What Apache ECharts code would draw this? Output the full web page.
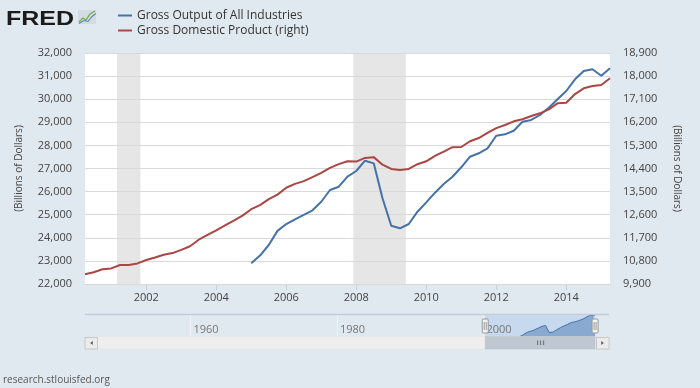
<!DOCTYPE html>
<html><head><meta charset="utf-8">
<script src="https://cdn.jsdelivr.net/npm/echarts@6/dist/echarts.min.js"></script>
<style>html,body{margin:0;padding:0;background:#e1e9f0;}#c{width:700px;height:388px;}</style>
</head><body><div id="c"></div>
<script>
// ---- data ----
const quarters = [
  '2000Q2','2000Q3','2000Q4',
  '2001Q1','2001Q2','2001Q3','2001Q4',
  '2002Q1','2002Q2','2002Q3','2002Q4',
  '2003Q1','2003Q2','2003Q3','2003Q4',
  '2004Q1','2004Q2','2004Q3','2004Q4',
  '2005Q1','2005Q2','2005Q3','2005Q4',
  '2006Q1','2006Q2','2006Q3','2006Q4',
  '2007Q1','2007Q2','2007Q3','2007Q4',
  '2008Q1','2008Q2','2008Q3','2008Q4',
  '2009Q1','2009Q2','2009Q3','2009Q4',
  '2010Q1','2010Q2','2010Q3','2010Q4',
  '2011Q1','2011Q2','2011Q3','2011Q4',
  '2012Q1','2012Q2','2012Q3','2012Q4',
  '2013Q1','2013Q2','2013Q3','2013Q4',
  '2014Q1','2014Q2','2014Q3','2014Q4',
  '2015Q1','2015Q2'
];
const grossOutput = [
  null,null,null,
  null,null,null,null,
  null,null,null,null,
  null,null,null,null,
  null,null,null,null,
  22896,23230,23688,24300,
  24597,24800,24990,25190,
  25560,26069,26212,26645,
  26892,27338,27223,25710,
  24524,24411,24597,25130,
  25535,25953,26329,26645,
  27052,27511,27658,27874,
  28420,28480,28636,29026,
  29100,29316,29633,29996,
  30355,30862,31221,31294,
  31017,31338
];
const gdp = [
  10278,10357,10472,
  10508,10638,10640,10701,
  10834,10935,11037,11104,
  11230,11371,11625,11817,
  11988,12181,12368,12562,
  12814,12974,13205,13382,
  13649,13800,13909,14066,
  14233,14422,14570,14685,
  14668,14813,14843,14550,
  14384,14340,14384,14567,
  14681,14889,15058,15230,
  15238,15461,15587,15785,
  15974,16095,16239,16317,
  16445,16550,16706,16940,
  16964,17300,17525,17614,
  17653,17914
];
const recessions = [['2001-03-01','2001-11-01'],['2007-12-01','2009-06-01']];
const xTickYears = [2002,2004,2006,2008,2010,2012,2014];
const navTickYears = [1960,1980,2000];
const seriesNames = ['Gross Output of All Industries','Gross Domestic Product (right)'];

// ---- helpers ----
function qToYear(q){ return +q.slice(0,4) + (+q.slice(5)-1)/4; }
function dToYear(d){ const p=d.split('-'); return +p[0] + (+p[1]-1)/12; }
const xs = quarters.map(qToYear);
const xMin = xs[0], xMax = xs[xs.length-1];
const goData = xs.map((x,i)=>[x, grossOutput[i]]);
const gdpData = xs.map((x,i)=>[x, gdp[i]]);
const navData = goData.filter(d=>d[1]!=null);
const navMin = 1945.6, navMax = 2017.15;

const FONT = '"Open Sans", sans-serif';
const BG = '#e1e9f0';
const NAV = {left:85, right:91, top:315, height:21.5};
const chart = echarts.init(document.getElementById('c'));

chart.setOption({
  backgroundColor: BG,
  animation: false,
  textStyle: {fontFamily: FONT},
  legend: {
    left: 113, top: 4, padding: 5, orient: 'vertical', itemWidth: 14, itemHeight: 2, itemGap: 2,
    icon: 'rect', selectedMode: false, data: seriesNames,
    textStyle: {fontSize: 12, color: '#333', lineHeight: 13, fontFamily: FONT}
  },
  grid: [
    {left: 85, right: 90, top: 53, height: 231, show: true, backgroundColor: '#ffffff', borderWidth: 0},
    {left: NAV.left, right: NAV.right, top: NAV.top, height: NAV.height, show: false}
  ],
  xAxis: [
    {type: 'value', gridIndex: 0, min: xMin, max: xMax,
     axisLine: {show: true, lineStyle: {color: '#c0d0e0', width: 1}},
     axisTick: {show: true, customValues: xTickYears, length: 6, lineStyle: {color: '#c0d0e0'}},
     axisLabel: {customValues: xTickYears, formatter: v => String(v), color: '#444', fontSize: 11, margin: 8, fontFamily: FONT},
     splitLine: {show: false}},
    {type: 'value', gridIndex: 1, min: navMin, max: navMax, z: 5,
     axisLine: {show: false},
     axisTick: {show: false, customValues: navTickYears},
     axisLabel: {customValues: navTickYears, inside: true, align: 'left', padding: [0,0,0,3], margin: 1,
                 color: '#777', fontSize: 11, formatter: v => String(v), fontFamily: FONT},
     splitLine: {show: true, lineStyle: {color: '#eef2f6', width: 1}}}
  ],
  yAxis: [
    {type: 'value', gridIndex: 0, position: 'left', min: 22000, max: 32000, interval: 1000, z: 2,
     name: '(Billions of Dollars)', nameLocation: 'middle', nameGap: 61, nameRotate: 90,
     nameTextStyle: {fontSize: 10, color: '#444', fontFamily: FONT},
     axisLine: {show: false}, axisTick: {show: false},
     axisLabel: {color: '#444', fontSize: 11, margin: 13, fontFamily: FONT},
     splitLine: {show: true, lineStyle: {color: '#d9d9d9', width: 1}}},
    {type: 'value', gridIndex: 0, position: 'right', min: 9900, max: 18900, interval: 900,
     name: '(Billions of Dollars)', nameLocation: 'middle', nameGap: 62, nameRotate: -90,
     nameTextStyle: {fontSize: 10, color: '#444', fontFamily: FONT},
     axisLine: {show: false}, axisTick: {show: false},
     axisLabel: {color: '#444', fontSize: 11, margin: 13, fontFamily: FONT},
     splitLine: {show: false}},
    {type: 'value', gridIndex: 1, show: false, min: 'dataMin', max: 'dataMax'}
  ],
  series: [
    {name: 'recessions', type: 'line', xAxisIndex: 0, yAxisIndex: 0, data: [], z: 1, silent: true,
     markArea: {silent: true, itemStyle: {color: '#e6e6e6'},
       data: recessions.map(r => [{xAxis: dToYear(r[0])}, {xAxis: dToYear(r[1])}])}},
    {name: seriesNames[0], type: 'line', xAxisIndex: 0, yAxisIndex: 0, data: goData,
     symbol: 'none', showSymbol: false, z: 3,
     lineStyle: {color: '#4572a7', width: 2}, itemStyle: {color: '#4572a7'}},
    {name: seriesNames[1], type: 'line', xAxisIndex: 0, yAxisIndex: 1, data: gdpData,
     symbol: 'none', showSymbol: false, z: 3,
     lineStyle: {color: '#aa4643', width: 2}, itemStyle: {color: '#aa4643'}},
    {name: 'navigator', type: 'line', xAxisIndex: 1, yAxisIndex: 2, data: navData,
     symbol: 'none', showSymbol: false, z: 3, silent: true,
     lineStyle: {color: '#4572a7', width: 1}, areaStyle: {color: '#8aa9d0', opacity: 1}}
  ]
});

// ---- chrome: logo, footer, navigator selection, scrollbar ----
const px = v => chart.convertToPixel({xAxisIndex: 1}, v);
const navL = NAV.left, navR = 700 - NAV.right;
const sl = px(xMin), sr = px(xMax);
const sbTop = 336.5, sbH = 12.5;
const g = [];
// logo
g.push({type: 'text', x: 6, y: 9, scaleX: 1.19, z: 10,
  style: {text: 'FRED', font: 'bold 21px "Liberation Sans", Arial, sans-serif', fill: '#1b1b1b', textVerticalAlign: 'top'}});
g.push({type: 'rect', shape: {x: 78, y: 10, width: 18, height: 14}, z: 10, style: {fill: '#d3dce4'}});
g.push({type: 'polyline', z: 11, shape: {points: [[79,22],[83,18],[86,20],[90,14],[95,11]]}, style: {stroke: '#74b043', lineWidth: 1.3, fill: null}});
g.push({type: 'polyline', z: 11, shape: {points: [[79,23.5],[84,20.5],[88,21.5],[92,16.5],[96,13.5]]}, style: {stroke: '#5a86bd', lineWidth: 1.1, fill: null}});
// footer
g.push({type: 'text', x: 3, y: 380, z: 10, style: {text: 'research.stlouisfed.org', font: '10px "Open Sans", sans-serif', fill: '#555', textVerticalAlign: 'middle'}});
// navigator top outline
g.push({type: 'line', z: 10, shape: {x1: navL, y1: 314.5, x2: navR, y2: 314.5}, style: {stroke: '#c4cdd7', lineWidth: 1.5}});
// selection
g.push({type: 'rect', z: 1, shape: {x: sl, y: 315.2, width: sr - sl, height: sbTop - 315.2}, style: {fill: '#c6d9ee'}});
// scrollbar track
g.push({type: 'rect', z: 10, shape: {x: navL, y: sbTop, width: navR - navL, height: sbH}, style: {fill: '#eeeeee', stroke: '#e2e2e2', lineWidth: 0.5}});
// thumb
g.push({type: 'rect', z: 11, shape: {x: sl, y: sbTop, width: sr - sl, height: sbH}, style: {fill: '#bfc8d1', stroke: '#b5bec8', lineWidth: 0.5}});
const mid = (sl + sr) / 2;
[-3, 0, 3].forEach(d => g.push({type: 'line', z: 12, shape: {x1: mid + d + 0.5, y1: sbTop + 4, x2: mid + d + 0.5, y2: sbTop + 8.5}, style: {stroke: '#666', lineWidth: 1}}));
// buttons
function button(x0, dir) {
  g.push({type: 'rect', z: 12, shape: {x: x0, y: sbTop + 1, width: 12.5, height: sbH - 1}, style: {fill: '#ebebeb', stroke: '#c8c8c8', lineWidth: 1}});
  const cx = x0 + 6.25, cy = sbTop + 6.5;
  const pts = dir < 0 ? [[cx + 1.5, cy - 2], [cx + 1.5, cy + 2], [cx - 1, cy]] : [[cx - 1.5, cy - 2], [cx - 1.5, cy + 2], [cx + 1, cy]];
  g.push({type: 'polygon', z: 13, shape: {points: pts}, style: {fill: '#555'}});
}
button(navL, -1);
button(navR - 12.5, 1);
// handles
function handle(x) {
  g.push({type: 'rect', z: 14, shape: {x: x - 3, y: 319, width: 6, height: 14, r: 1}, style: {fill: '#f2f2f2', stroke: '#999', lineWidth: 1}});
  [-1, 1].forEach(d => g.push({type: 'line', z: 15, shape: {x1: x + d, y1: 322, x2: x + d, y2: 330}, style: {stroke: '#999', lineWidth: 1}}));
}
handle(sl);
handle(sr);
chart.setOption({graphic: {elements: g}});
</script>
</body></html>
